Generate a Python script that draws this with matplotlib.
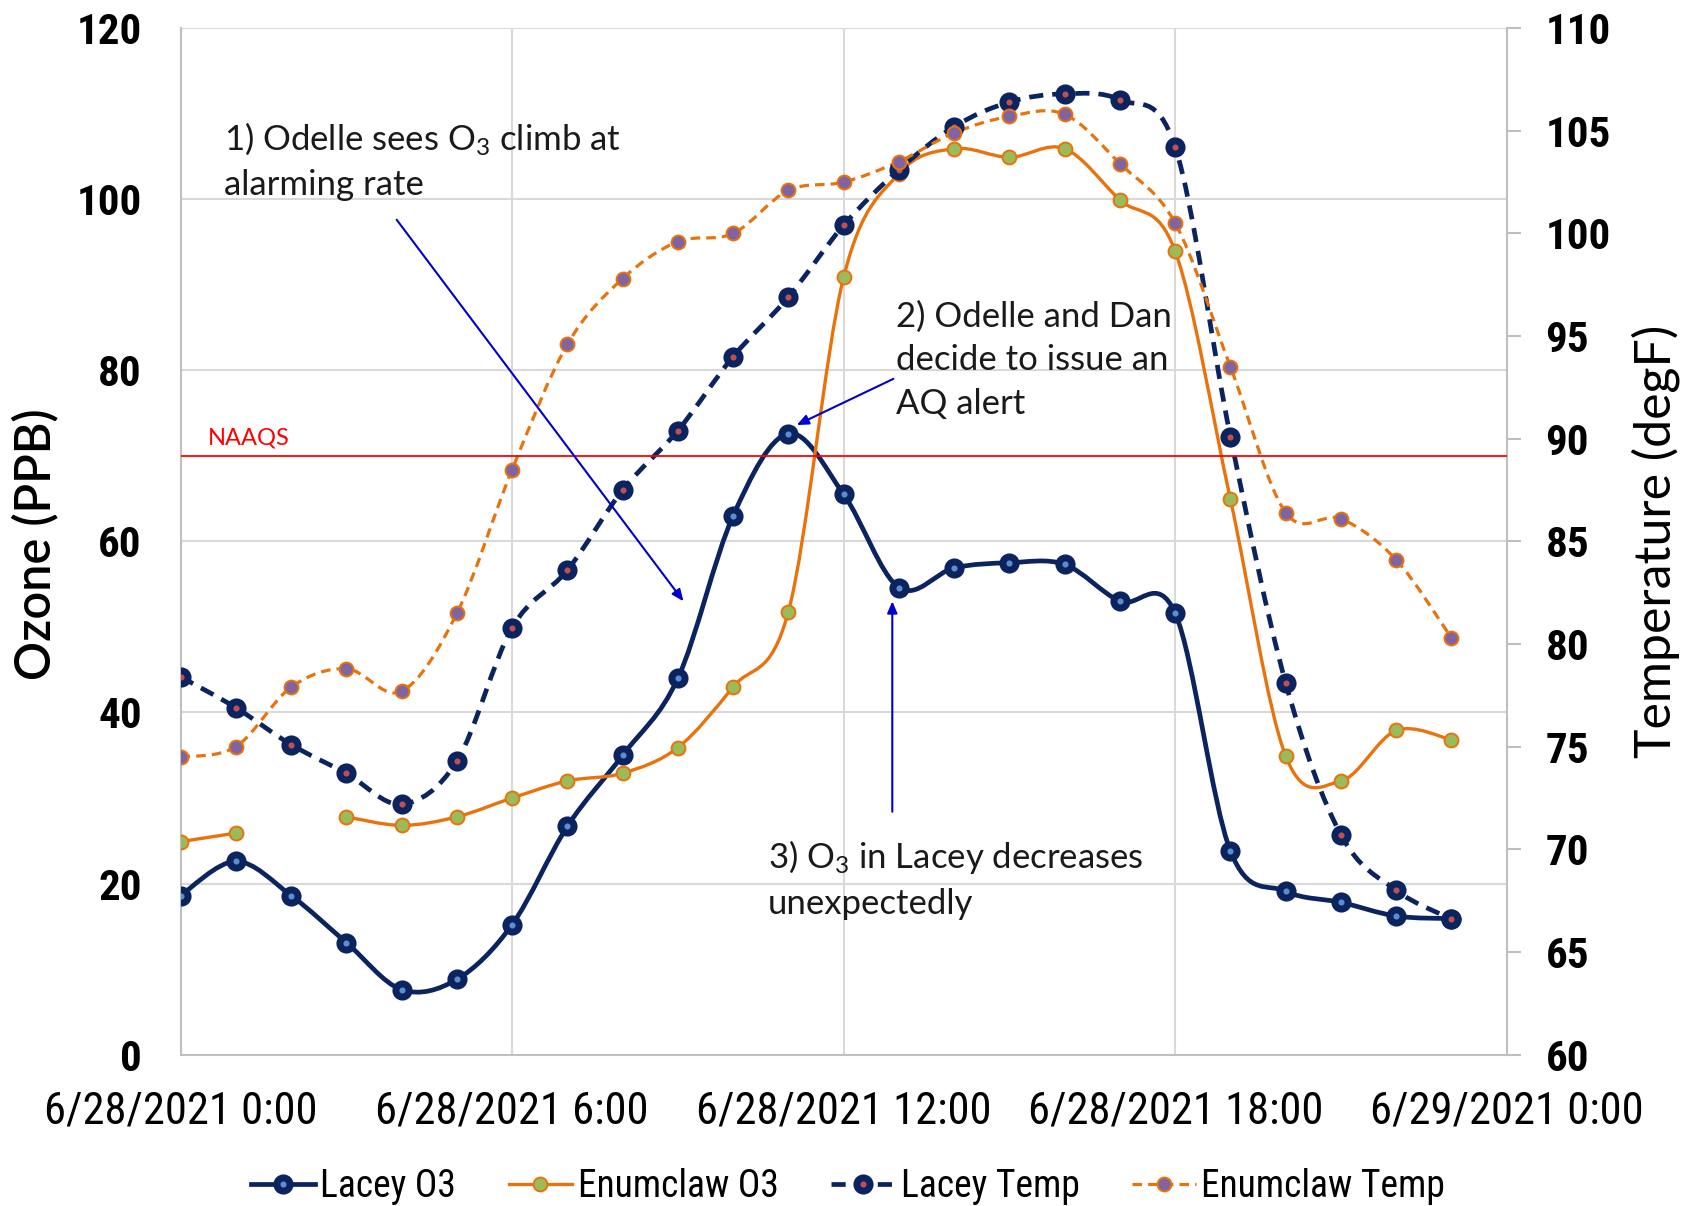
import numpy as np
import matplotlib
matplotlib.use('Agg')
from matplotlib import pyplot as plt
from matplotlib import font_manager
from matplotlib.path import Path
from matplotlib.patches import PathPatch
from matplotlib.lines import Line2D

# hourly readings, 6/28/2021 (hour of day)
hours = list(range(24))
lacey_o3 = [18.6, 22.6, 18.6, 13.1, 7.6, 8.8, 15.2, 26.7, 35.0, 44.0, 63.0, 72.6,
            65.5, 54.6, 56.9, 57.5, 57.3, 53.0, 51.6, 23.8, 19.1, 17.8, 16.2, 15.9]
enumclaw_o3 = [24.9, 25.9, np.nan, 27.8, 26.8, 27.8, 30.0, 32.0, 32.9, 35.9, 43.0, 51.8,
               90.9, 103.0, 105.9, 104.9, 105.9, 99.9, 93.9, 64.9, 34.9, 32.0, 37.9, 36.8]
lacey_temp = [78.4, 76.9, 75.1, 73.7, 72.2, 74.3, 80.8, 83.6, 87.5, 90.4, 94.0, 96.9,
              100.4, 103.1, 105.2, 106.4, 106.8, 106.5, 104.2, 90.1, 78.1, 70.7, 68.0, 66.6]
enumclaw_temp = [74.5, 75.0, 77.9, 78.8, 77.7, 81.5, 88.5, 94.6, 97.8, 99.6, 100.0, 102.1,
                 102.5, 103.5, 104.9, 105.7, 105.8, 103.4, 100.5, 93.5, 86.4, 86.1, 84.1, 80.3]
naaqs = 70

x_ticks = [0, 6, 12, 18, 24]
x_labels = ['6/28/2021 0:00', '6/28/2021 6:00', '6/28/2021 12:00',
            '6/28/2021 18:00', '6/29/2021 0:00']
o3_ticks = list(range(0, 121, 20))
temp_ticks = list(range(60, 111, 5))

NAVY = '#0B2460'
ORANGE = '#E8730C'
GREEN = '#9BBB59'
PURPLE = '#8064A2'
RED_DOT = '#C0504D'
BLUE_DOT = '#5B8FCB'
ARROW = '#0000CC'
GRID = '#D9D9D9'
SPINE = '#BFBFBF'


def pick_font(names):
    for n in names:
        try:
            font_manager.findfont(n, fallback_to_default=False)
            return n
        except ValueError:
            pass
    return 'DejaVu Sans'


NARROW = pick_font(['Liberation Sans Narrow', 'Roboto Condensed', 'Liberation Sans'])
MAIN = pick_font(['Lato', 'Open Sans'])
plt.rcParams['mathtext.fontset'] = 'custom'
plt.rcParams['mathtext.rm'] = MAIN
plt.rcParams['mathtext.it'] = MAIN + ':italic'


def smooth_paths(xs, ys):
    # excel-style smoothed line: cubic bezier through each point, split at gaps
    xs = np.asarray(xs, float)
    ys = np.asarray(ys, float)
    ok = ~np.isnan(ys)
    paths = []
    i = 0
    while i < len(xs):
        if not ok[i]:
            i += 1
            continue
        j = i
        while j < len(xs) and ok[j]:
            j += 1
        pts = np.column_stack([xs[i:j], ys[i:j]])
        n = len(pts)
        verts = [pts[0]]
        codes = [Path.MOVETO]
        for k in range(n - 1):
            p0 = pts[k - 1] if k > 0 else pts[k]
            p1 = pts[k]
            p2 = pts[k + 1]
            p3 = pts[k + 2] if k + 2 < n else pts[k + 1]
            verts += [p1 + (p2 - p0) / 6.0, p2 - (p3 - p1) / 6.0, p2]
            codes += [Path.CURVE4] * 3
        if n > 1:
            paths.append(Path(verts, codes))
        i = j
    return paths


def draw_series(ax, ys, color, lw, ls, mfc, mec, ms, mew, z):
    for p in smooth_paths(hours, ys):
        ax.add_patch(PathPatch(p, fill=False, edgecolor=color, lw=lw,
                               linestyle=ls, capstyle='butt', zorder=z))
    ax.plot(hours, ys, linestyle='none', marker='o', ms=ms, mfc=mfc, mec=mec,
            mew=mew, zorder=z + 0.5)
    return Line2D([], [], color=color, lw=lw, linestyle=ls, marker='o', ms=ms,
                  mfc=mfc, mec=mec, mew=mew)


fig = plt.figure(figsize=(16.96, 12.06), dpi=100)
ax = fig.add_axes([0.1065, 0.1255, 0.7819, 0.8512])
ax2 = ax.twinx()

h1 = draw_series(ax, lacey_o3, NAVY, 3.4, '-', BLUE_DOT, NAVY, 9.5, 5.0, 3)
h2 = draw_series(ax, enumclaw_o3, ORANGE, 2.4, '-', GREEN, ORANGE, 10, 1.4, 3)
h3 = draw_series(ax2, lacey_temp, NAVY, 3.4, (0, (3, 1.9)), RED_DOT, NAVY, 9.5, 5.0, 3)
h4 = draw_series(ax2, enumclaw_temp, ORANGE, 2.3, (0, (3, 1.9)), PURPLE, ORANGE, 10, 1.4, 3)

# NAAQS line drawn on top
ax2.add_line(Line2D([0, 1], [naaqs, naaqs], transform=ax.get_yaxis_transform(),
                    color='#FF0000', lw=1.3, zorder=6))
ax2.text(0.5, naaqs + 0.9, 'NAAQS', transform=ax.transData, color='#FF0000',
         fontsize=17, family=MAIN, ha='left', va='bottom', zorder=6)

ax.set_xlim(0, 24)
ax.set_ylim(0, 120)
ax2.set_ylim(60, 110)
ax.set_xticks(x_ticks)
ax.set_xticklabels(x_labels)
ax.set_yticks(o3_ticks)
ax2.set_yticks(temp_ticks)
ax.grid(True, color=GRID, lw=1.5)
ax.set_axisbelow(True)

for a in (ax, ax2):
    for s in a.spines.values():
        s.set_visible(False)
ax.spines['left'].set_visible(True)
ax.spines['bottom'].set_visible(True)
ax2.spines['right'].set_visible(True)
for s in (ax.spines['left'], ax.spines['bottom'], ax2.spines['right']):
    s.set_color(SPINE)
    s.set_linewidth(1.5)

ax.tick_params(axis='y', length=0, pad=28)
ax.tick_params(axis='x', length=0, pad=26)
ax2.tick_params(axis='y', length=10, width=1.5, color=SPINE, pad=18)
for lab in ax.get_yticklabels() + ax2.get_yticklabels():
    lab.set_family(NARROW)
    lab.set_fontweight('bold')
    lab.set_fontsize(31)
for lab in ax.get_xticklabels():
    lab.set_family(NARROW)
    lab.set_fontsize(32)

fig.text(0.021, 0.549, 'Ozone (PPB)', rotation=90, ha='center', va='center',
         fontsize=35, family=MAIN, fontweight='semibold')
fig.text(0.976, 0.551, 'Temperature (degF)', rotation=90, ha='center', va='center',
         fontsize=36, family=MAIN)

# annotations
note = dict(fontsize=25, family=MAIN, color='#1A1A1A',
            ha='left', va='top', linespacing=1.45, zorder=7)
arrow = dict(arrowstyle='-|>,head_length=0.7,head_width=0.3', color=ARROW, lw=1.5,
             shrinkA=0, shrinkB=0)
ax2.text(0.78, 109.2, '1) Odelle sees O$_3$ climb at\nalarming rate',
         transform=ax.transData, **note)
ax2.text(12.94, 88.2, '2) Odelle and Dan\ndecide to issue an\nAQ alert',
         transform=ax.transData, **note)
ax2.text(10.63, 25.3, '3) O$_3$ in Lacey decreases\nunexpectedly',
         transform=ax.transData, **note)
for start, end in [((3.91, 97.6), (9.10, 53.0)),
                   ((12.9, 79.0), (11.15, 73.6)),
                   ((12.88, 28.4), (12.88, 53.0))]:
    ax2.annotate('', xy=end, xytext=start, xycoords=ax.transData,
                 textcoords=ax.transData, arrowprops=arrow, zorder=7)

fig.legend([h1, h2, h3, h4], ['Lacey O3', 'Enumclaw O3', 'Lacey Temp', 'Enumclaw Temp'],
           loc='center', bbox_to_anchor=(0.5, 0.016), ncol=4, frameon=False,
           prop={'family': NARROW, 'size': 27}, handlelength=1.7, handletextpad=0.15,
           columnspacing=1.4)

fig.savefig('out.png', dpi=100)
